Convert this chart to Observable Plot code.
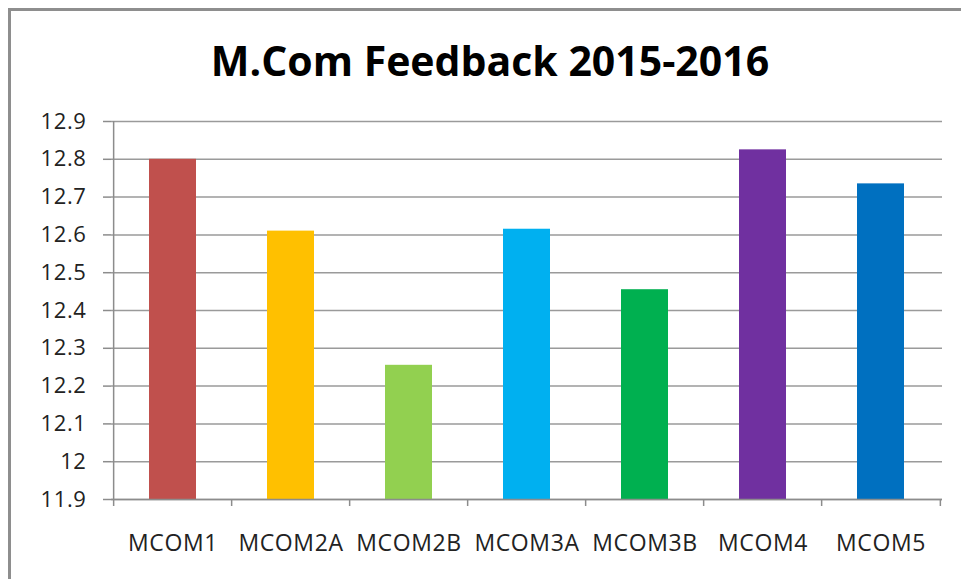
<!DOCTYPE html>
<html><head><meta charset="utf-8">
<script src="https://cdn.jsdelivr.net/npm/d3@7"></script>
<script src="https://cdn.jsdelivr.net/npm/@observablehq/plot@0.6"></script>
<style>
body{margin:0;background:#fff;font-family:"Open Sans",sans-serif;}
#wrap{position:relative;width:961px;height:579px;overflow:hidden;background:#fff;}
#border{position:absolute;left:8px;top:8px;width:1200px;height:1200px;border-top:3px solid #8e8e8e;border-left:3px solid #8e8e8e;box-sizing:border-box;}
#title{position:absolute;left:0;width:980px;top:39px;line-height:42px;font-size:41px;font-weight:700;text-align:center;color:#000;font-family:"Open Sans",sans-serif;}
#chart{position:absolute;left:0;top:100px;}
#chart svg{background:transparent;}
</style></head>
<body>
<div id="wrap"><div id="border"></div><div id="title"></div><div id="chart"></div></div>
<script>
const title = "M.Com Feedback 2015-2016";
const categories = ["MCOM1","MCOM2A","MCOM2B","MCOM3A","MCOM3B","MCOM4","MCOM5"];
const values = [12.80, 12.61, 12.255, 12.615, 12.455, 12.825, 12.735];
const colors = ["#C0504D","#FFC000","#92D050","#00B0F0","#00B050","#7030A0","#0070C0"];
const yTicks = [11.9,12.0,12.1,12.2,12.3,12.4,12.5,12.6,12.7,12.8,12.9];
const yTickLabels = ["11.9","12","12.1","12.2","12.3","12.4","12.5","12.6","12.7","12.8","12.9"];

document.getElementById("title").textContent = title;

const data = categories.map((c, i) => ({cat: c, value: values[i]}));
const W = 961, H = 479, ML = 111, MR = 19, MT = 21, MB = 80;
const step = (W - ML - MR) / categories.length;
const axisColor = "#8c8c8c";

const chart = Plot.plot({
  width: W, height: H,
  marginLeft: ML, marginRight: MR, marginTop: MT, marginBottom: MB,
  style: {fontFamily: "'Open Sans', sans-serif", background: "transparent", overflow: "visible"},
  x: {domain: categories, paddingInner: 0.604, paddingOuter: 0.302, align: 0.5, label: null},
  y: {domain: [yTicks[0], yTicks[yTicks.length - 1]], label: null},
  color: {domain: categories, range: colors},
  marks: [
    Plot.gridY(yTicks, {stroke: "#9a9a9a", strokeOpacity: 1, strokeWidth: 1.5}),
    Plot.barY(data, {x: "cat", y1: yTicks[0], y2: "value", fill: "cat"}),
    Plot.ruleX([categories[0]], {x: d => d, dx: -step / 2, y1: yTicks[0], y2: yTicks[yTicks.length - 1], stroke: axisColor, strokeWidth: 1.5}),
    Plot.ruleY([yTicks[0]], {stroke: axisColor, strokeWidth: 1.5}),
    Plot.ruleX(categories, {x: d => d, dx: -step / 2, y1: yTicks[0], y2: yTicks[0], insetBottom: -7, stroke: axisColor, strokeWidth: 1.5}),
    Plot.ruleX([categories[categories.length - 1]], {x: d => d, dx: step / 2, y1: yTicks[0], y2: yTicks[0], insetBottom: -7, stroke: axisColor, strokeWidth: 1.5}),
    Plot.axisY({ticks: yTicks, tickFormat: (d, i) => yTickLabels[i], tickSize: 8, tickPadding: 17, stroke: axisColor, strokeWidth: 1.5, fontSize: 22, fill: "#222", label: null}),
    Plot.axisX({tickSize: 0, tickPadding: 35, fontSize: 23, fill: "#222", label: null})
  ]
});
chart.querySelectorAll("text").forEach(t => t.style.letterSpacing = "0.6px");
document.getElementById("chart").appendChild(chart);
</script>
</body></html>
